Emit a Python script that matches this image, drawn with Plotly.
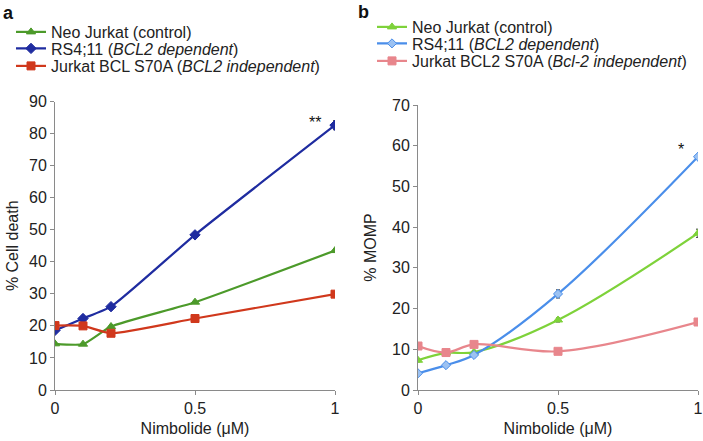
import plotly.graph_objects as go

doses = [0, 0.1, 0.2, 0.5, 1]

# Panel a: % Cell death
a_neo = [14.4, 14.3, 19.8, 27.4, 43.5]
a_neo_err = [0.3, 0.3, 0.4, 0.4, 0.5]
a_rs4 = [18.6, 22.3, 26.0, 48.4, 82.6]
a_rs4_err = [0.4, 0.5, 0.6, 0.6, 1.4]
a_s70a = [20.1, 20.0, 17.7, 22.3, 29.9]
a_s70a_err = [0.5, 0.4, 0.4, 0.4, 0.5]

# Panel b: % MOMP
b_neo = [7.3, 9.1, 9.3, 17.2, 38.5]
b_neo_err = [0.4, 0.4, 0.4, 0.5, 1.0]
b_rs4 = [4.1, 6.1, 8.6, 23.6, 57.3]
b_rs4_err = [0.3, 0.3, 0.4, 1.0, 0.5]
b_s70a = [10.8, 9.2, 11.2, 9.5, 16.7]
b_s70a_err = [0.4, 0.4, 0.4, 0.5, 0.6]

a_names = ["Neo Jurkat (control)",
           "RS4;11 (<i>BCL2 dependent</i>)",
           "Jurkat BCL S70A (<i>BCL2 independent</i>)"]
b_names = ["Neo Jurkat (control)",
           "RS4;11 (<i>BCL2 dependent</i>)",
           "Jurkat BCL2 S70A (<i>Bcl-2 independent</i>)"]

xticks = [0, 0.5, 1]
xticklabels = ["0", "0.5", "1"]
a_yticks = list(range(0, 91, 10))
b_yticks = list(range(0, 71, 10))

FONT = "Liberation Sans, Arial, sans-serif"
W, H = 703, 441

def px_x(p):
    return p / W

def px_y(p):
    return 1 - p / H

fig = go.Figure()

def add(x, y, err, name, color, symbol, xa, ya, legend, smooth, mfill=None, msize=8):
    fig.add_trace(go.Scatter(
        x=x, y=y, name=name, mode="lines+markers",
        line=dict(color=color, width=2.2, shape="spline", smoothing=smooth),
        marker=dict(symbol=symbol, size=msize, color=mfill or color,
                    line=dict(color=color, width=1)),
        error_y=dict(type="data", array=err, color="#333333", thickness=1, width=2),
        xaxis=xa, yaxis=ya, legend=legend,
    ))

# panel a
add(doses, a_neo, a_neo_err, a_names[0], "#4C9A2A", "triangle-up", "x", "y", "legend", 0.5)
add(doses, a_rs4, a_rs4_err, a_names[1], "#1F2CA0", "diamond", "x", "y", "legend2", 0.5)
add(doses, a_s70a, a_s70a_err, a_names[2], "#D0381C", "square", "x", "y", "legend3", 0.5)
# panel b
add(doses, b_neo, b_neo_err, b_names[0], "#7ED23A", "triangle-up", "x2", "y2", "legend4", 1.0)
add(doses, b_rs4, b_rs4_err, b_names[1], "#4A8EEA", "diamond", "x2", "y2", "legend5", 1.0, mfill="#9CC2F2", msize=7)
add(doses, b_s70a, b_s70a_err, b_names[2], "#E8868C", "square", "x2", "y2", "legend6", 1.0)

axis_common = dict(
    showline=True, linecolor="#8a8a8a", linewidth=1,
    ticks="outside", ticklen=4, tickcolor="#8a8a8a",
    showgrid=False, zeroline=False, automargin=False,
    tickfont=dict(family=FONT, size=16, color="#222222"),
)

def leg(xp, yp):
    return dict(x=px_x(xp), y=px_y(yp), xanchor="left", yanchor="middle",
                font=dict(family=FONT, size=16, color="#222222"),
                bgcolor="rgba(0,0,0,0)", itemwidth=30)

title_font = dict(family=FONT, size=16, color="#222222")

fig.update_layout(
    width=W, height=H,
    margin=dict(l=0, r=0, t=0, b=0, autoexpand=False),
    paper_bgcolor="white", plot_bgcolor="white",
    font=dict(family=FONT, color="#222222"),
    xaxis=dict(domain=[px_x(55), px_x(335)], range=[0, 1], tickvals=xticks,
               ticktext=xticklabels, anchor="y",
               title=dict(text="Nimbolide (μM)", font=title_font, standoff=6),
               **axis_common),
    yaxis=dict(domain=[px_y(390), px_y(101.5)], range=[0, 90], tickvals=a_yticks,
               anchor="x",
               title=dict(text="% Cell death", font=title_font, standoff=6),
               **axis_common),
    xaxis2=dict(domain=[px_x(418), px_x(698)], range=[0, 1], tickvals=xticks,
                ticktext=xticklabels, anchor="y2",
                title=dict(text="Nimbolide (μM)", font=title_font, standoff=6),
                **axis_common),
    yaxis2=dict(domain=[px_y(390), px_y(105)], range=[0, 70], tickvals=b_yticks,
                anchor="x2",
                title=dict(text="% MOMP", font=title_font, standoff=11),
                **axis_common),
    legend=leg(11, 32),
    legend2=leg(11, 48.5),
    legend3=leg(11, 66),
    legend4=leg(372, 27),
    legend5=leg(372, 43.5),
    legend6=leg(372, 61),
    showlegend=True,
    annotations=[
        dict(text="<b>a</b>", x=px_x(1), y=px_y(1), xref="paper", yref="paper",
             xanchor="left", yanchor="top", showarrow=False,
             font=dict(family=FONT, size=18, color="#111111")),
        dict(text="<b>b</b>", x=px_x(356), y=px_y(0), xref="paper", yref="paper",
             xanchor="left", yanchor="top", showarrow=False,
             font=dict(family=FONT, size=18, color="#111111")),
        dict(text="**", x=0.93, y=83.5, xref="x", yref="y", showarrow=False,
             font=dict(family=FONT, size=16, color="#111111")),
        dict(text="*", x=0.94, y=59.0, xref="x2", yref="y2", showarrow=False,
             font=dict(family=FONT, size=16, color="#111111")),
    ],
)

fig.write_html(
    "out.html",
    config={"displayModeBar": False},
    post_script="document.body.style.margin='0';document.body.style.overflow='hidden';",
)
